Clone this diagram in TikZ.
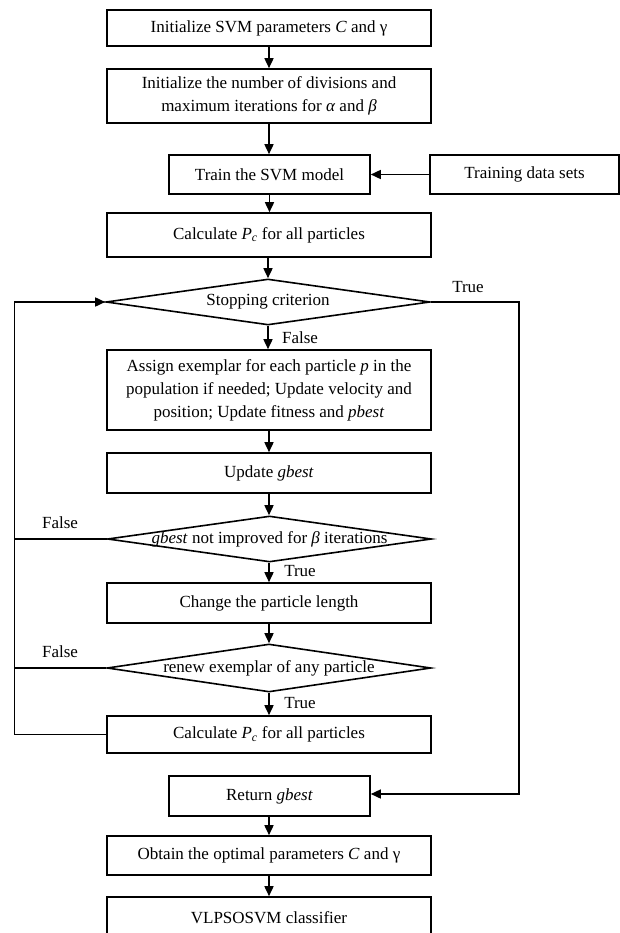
\documentclass[tikz,border=0pt]{standalone}
\usepackage{fontspec}
\setmainfont{Liberation Serif}
\usetikzlibrary{arrows.meta,shapes.geometric}
\begin{document}
\begin{tikzpicture}[x=1pt,y=-1pt,
  every node/.style={font=\fontsize{17}{23}\selectfont},
  box/.style 2 args={draw, rectangle, line width=1.6pt, inner sep=0pt, align=center,
    minimum width=#1pt, minimum height=#2pt},
  dia/.style 2 args={draw, diamond, line width=1.6pt, inner sep=0pt,
    minimum width=#1pt, minimum height=#2pt},
  lbl/.style={inner sep=0pt},
  conn/.style={line width=1.6pt},
  arr/.style={conn, -{Triangle[length=10pt,width=9pt]}}]
\useasboundingbox (0,0) rectangle (620,933);
\clip (0,0) rectangle (620,933);
\fill[white] (0,0) rectangle (620,933);

\node[box={324}{36}] (b1) at (269,28) {Initialize SVM parameters \textit{C} and γ};
\node[box={324}{54}] (b2) at (269,96) {Initialize the number of divisions and\\maximum iterations for \textit{α} and \textit{β}};
\node[box={201}{39}] (b3) at (269.5,174.5) {Train the SVM model};
\node[box={189}{39}] (td) at (524.5,174.5) {Training data sets};
\node[box={324}{44}] (b4) at (269,235) {Calculate \textit{P}\textsubscript{\textit{c}} for all particles};
\node[dia={324}{46}] (d1) at (268,302) {};
\node[lbl] (d1t) at (d1) {Stopping criterion};
\node[box={324}{80}] (b5) at (269,390) {Assign exemplar for each particle \textit{p} in the\\population if needed; Update velocity and\\position; Update fitness and \textit{pbest}};
\node[box={324}{40}] (b6) at (269,473) {Update \textit{gbest}};
\node[dia={324}{46}] (d2) at (269.5,539) {};
\node[lbl] (d2t) at (d2) {\textit{gbest} not improved for \textit{β} iterations};
\node[box={324}{40}] (b7) at (269,603) {Change the particle length};
\node[dia={324}{48}] (d3) at (269,668) {};
\node[lbl] (d3t) at (d3) {renew exemplar of any particle};
\node[box={324}{37}] (b8) at (269,734.5) {Calculate \textit{P}\textsubscript{\textit{c}} for all particles};
\node[box={201}{40}] (b9) at (269.5,796) {Return \textit{gbest}};
\node[box={324}{39}] (b10) at (269,855.5) {Obtain the optimal parameters \textit{C} and γ};
\node[box={324}{42}] (b11) at (269,918) {VLPSOSVM classifier};

% labels
\node[lbl] (tr1) at (468,287) {True};
\node[lbl] (f1) at (300,338) {False};
\node[lbl] (f2) at (60,523) {False};
\node[lbl] (tr2) at (300,571) {True};
\node[lbl] (f3) at (60,652) {False};
\node[lbl] (tr3) at (300,703) {True};

% main flow
\draw[arr] (b1.south) -- (b2.north);
\draw[arr] (b2.south) -- (b2.south |- b3.north);
\draw[arr] (td.west) -- (b3.east);
\draw[arr] (b3.south) -- (b3.south |- b4.north);
\draw[arr] (b4.south) -- (b4.south -| d1.north) -- (d1.north);
\draw[arr] (d1.south) -- (d1.south |- b5.north);
\draw[arr] (b5.south) -- (b6.north);
\draw[arr] (b6.south) -- (b6.south |- d2.north);
\draw[arr] (d2.south -| b7.north) -- (b7.north);
\draw[arr] (b7.south) -- (b7.south |- d3.north);
\draw[arr] (d3.south) -- (b8.north);
\draw[arr] (b9.south -| b10.north) -- (b10.north);
\draw[arr] (b10.south) -- (b11.north);

% true branch of stopping criterion
\coordinate (rt) at (519,302);
\coordinate (rb) at (519,794);
\draw[arr] (d1.east) -- (rt) -- (rb) -- (b9.east |- rb);

% loop back
\coordinate (lt) at (14.5,302);
\coordinate (lb) at (14.5,734.5);
\draw[arr] (b8.west) -- (lb) -- (lt) -- (d1.west);
\draw[conn] (d2.west) -- (d2.west -| lb);
\draw[conn] (d3.west) -- (d3.west -| lb);
\end{tikzpicture}
\end{document}
